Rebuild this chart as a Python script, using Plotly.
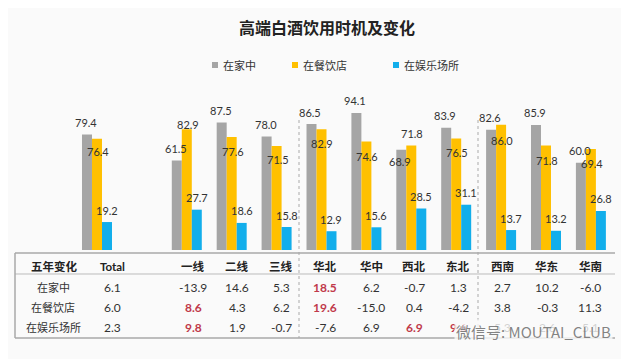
import plotly.graph_objects as go

# ---------------- data ----------------
title = "高端白酒饮用时机及变化"
series_names = ["在家中", "在餐饮店", "在娱乐场所"]
categories = ["Total", "一线", "二线", "三线", "华北", "华中", "西北", "东北", "西南", "华东", "华南"]
home = [79.4, 61.5, 87.5, 78.0, 86.5, 94.1, 68.9, 83.9, 82.6, 85.9, 60.0]
restaurant = [76.4, 82.9, 77.6, 71.5, 82.9, 74.6, 71.8, 76.5, 86.0, 71.8, 69.4]
entertainment = [19.2, 27.7, 18.6, 15.8, 12.9, 15.6, 28.5, 31.1, 13.7, 13.2, 26.8]

table_header = "五年变化"
change_home = [6.1, -13.9, 14.6, 5.3, 18.5, 6.2, -0.7, 1.3, 2.7, 10.2, -6.0]
change_restaurant = [6.0, 8.6, 4.3, 6.2, 19.6, -15.0, 0.4, -4.2, 3.8, -0.3, 11.3]
change_entertainment = [2.3, 9.8, 1.9, -0.7, -7.6, 6.9, 6.9, 9.6, 5.3, 2.6, 5.1]
highlighted = [(1, "一线"), (2, "一线"), (0, "华北"), (1, "华北"), (2, "西北"), (2, "东北")]
watermark = "微信号: MOUTAI_CLUB"

# ---------------- style ----------------
colors = ["#A5A5A5", "#FFC000", "#12AEEB"]
bg = "#FAFAFA"
font_family = "Lato, 'Noto Sans CJK SC', sans-serif"
cjk_family = "'Noto Sans CJK SC', sans-serif"
spacer = "\u3000"
axis_order = [categories[0], spacer] + categories[1:]

OFF = 8  # default page body margin
W, H = 629 - OFF, 359 - OFF
L, R, T, B = 15 - OFF, 17, 100 - OFF, 109
PW, PH = W - L - R, H - T - B


def px(x):
    return (x - OFF - L) / PW


def py(y):
    return (H - B - (y - OFF)) / PH


def note(x, y, text, size, color, family, xanchor="center", **kw):
    return dict(x=x, y=y, xref="paper", yref="paper", text=text, showarrow=False,
                xanchor=xanchor, yanchor="middle",
                font=dict(size=size, color=color, family=family), **kw)


fig = go.Figure()
for name, vals, c in zip(series_names, [home, restaurant, entertainment], colors):
    fig.add_trace(go.Bar(x=categories, y=vals, name=name, marker_color=c,
                         marker_line_width=0, showlegend=False))

ann = []
shapes = []

# bar value labels
gray_shift = [12, 12, 12, 12, 12, 12, -12, 12, 12, 12, 12]
yellow_shift = [-13, 5, -14, -14, -14, -15, 12, -14, -16, -15, -15]
for i, cat in enumerate(categories):
    for vals, xs, ys in [(home, -11, gray_shift[i]), (restaurant, 1, yellow_shift[i]),
                         (entertainment, 10, 12)]:
        ann.append(dict(x=cat, y=vals[i], xref="x", yref="y", xshift=xs, yshift=ys,
                        xanchor="center", yanchor="middle",
                        text=f"{vals[i]:.1f}", showarrow=False,
                        font=dict(size=11, color="#333333", family=font_family)))

# title
ann.append(note(px(327), py(27), f"<b>{title}</b>", 16, "#222222", cjk_family))

# legend
legend_x = [212, 292, 393]
for name, c, lx in zip(series_names, colors, legend_x):
    shapes.append(dict(type="rect", xref="paper", yref="paper", x0=px(lx), x1=px(lx + 6),
                       y0=py(68), y1=py(62), fillcolor=c, line_width=0))
    ann.append(note(px(lx + 9), py(65), name, 11, "#333333", cjk_family, xanchor="left"))

# dashed separators
for sx in [299, 478]:
    shapes.append(dict(type="line", xref="paper", yref="paper", x0=px(sx), x1=px(sx),
                       y0=py(120), y1=py(338), line=dict(color="#AAAAAA", width=1, dash="dot")))

# table lines
for yy, col, wd in [(253, "#A8A8A8", 1.5), (274, "#BBBBBB", 1), (338, "#A8A8A8", 1.5)]:
    shapes.append(dict(type="line", xref="paper", yref="paper", x0=px(15), x1=px(615),
                       y0=py(yy), y1=py(yy), line=dict(color=col, width=wd)))
shapes.append(dict(type="line", xref="paper", yref="paper", x0=px(15), x1=px(15),
                   y0=py(253), y1=py(338), line=dict(color="#A8A8A8", width=1.5)))

# table text
col_x = [112, 193, 237, 281, 325, 371, 414, 458, 502, 547, 590]
row_y = [287, 307, 327]
ann.append(note(px(54), py(266), f"<b>{table_header}</b>", 11.5, "#222222", cjk_family))
for cx, cat in zip(col_x, categories):
    ann.append(note(px(cx), py(266), f"<b>{cat}</b>", 11.5, "#222222", font_family))
for r, (name, vals) in enumerate(zip(series_names, [change_home, change_restaurant, change_entertainment])):
    ann.append(note(px(53), py(row_y[r]), name, 11, "#333333", cjk_family))
    for cx, cat, v in zip(col_x, categories, vals):
        hot = (r, cat) in highlighted
        txt = f"<b>{v:.1f}</b>" if hot else f"{v:.1f}"
        ann.append(note(px(cx), py(row_y[r]), txt, 12, "#C0394A" if hot else "#333333", font_family))

# watermark
ann.append(note(px(533), py(331), watermark, 15, "rgba(110,110,110,0.85)", cjk_family,
                bgcolor="rgba(250,250,250,0.8)"))

fig.update_layout(
    width=W, height=H,
    margin=dict(l=L, r=R, t=T, b=B, pad=0),
    paper_bgcolor=bg, plot_bgcolor=bg,
    barmode="group", bargap=0.332, bargroupgap=0,
    xaxis=dict(type="category", categoryorder="array", categoryarray=axis_order,
               range=[-1.826, 11.47], showticklabels=False, showgrid=False,
               zeroline=False, showline=False, ticks=""),
    yaxis=dict(range=[0, PH / 1.456], showticklabels=False, showgrid=False,
               zeroline=False, showline=False, ticks=""),
    annotations=ann, shapes=shapes,
)

fig.write_html("out.html")
